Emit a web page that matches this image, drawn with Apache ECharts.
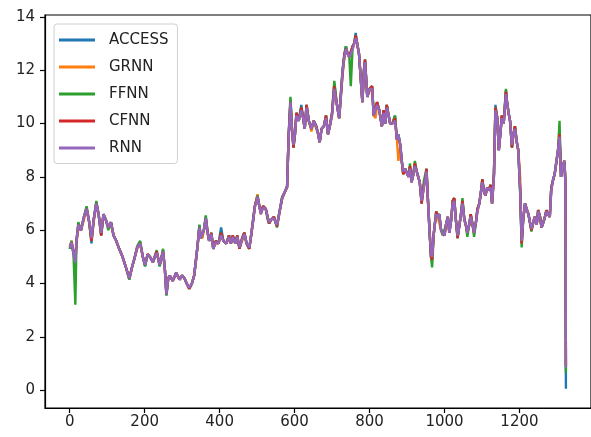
<!DOCTYPE html>
<html>
<head>
<meta charset="utf-8">
<script src="https://cdn.jsdelivr.net/npm/echarts@6/dist/echarts.min.js"></script>
<style>
html,body{margin:0;padding:0;background:#fff;}
#chart{width:591px;height:437px;}
</style>
</head>
<body>
<div id="chart"></div>
<script>
// sample positions (index on x axis)
const xIdx = [
0,5,10,15,18,23,30,38,45,52,
58,64,71,77,84,90,96,103,110,117,
124,132,141,150,159,166,172,180,188,195,
201,208,214,222,232,240,249,254,258,263,
267,275,284,293,300,306,312,319,326,332,
337,341,346,350,354,358,363,368,372,378,
383,390,397,404,410,418,425,430,435,442,
447,453,460,466,472,479,484,488,494,501,
506,510,516,523,528,532,538,545,549,553,
560,567,573,580,584,589,593,597,601,605,
611,618,623,627,632,638,645,651,658,663,
667,672,678,684,689,694,700,706,712,719,
723,728,733,737,742,746,750,755,759,763,
767,772,777,781,785,788,794,800,807,811,
816,820,826,833,838,842,846,851,855,861,
868,873,877,882,886,890,895,899,904,908,
912,917,921,926,930,934,939,945,949,952,
956,960,964,967,971,974,978,982,986,991,
995,1000,1004,1009,1013,1018,1022,1026,1031,1035,
1040,1044,1048,1053,1057,1061,1066,1070,1075,1079,
1084,1088,1093,1097,1101,1105,1109,1114,1118,1123,
1127,1132,1136,1141,1145,1149,1153,1158,1164,1167,
1171,1175,1180,1184,1188,1193,1197,1202,1206,1210,
1215,1219,1224,1228,1232,1237,1241,1246,1250,1255,
1259,1264,1268,1272,1276,1281,1285,1290,1294,1299,
1303,1307,1311,1316,1320,1323,1324];

const seriesNames = ['ACCESS','GRNN','FFNN','CFNN','RNN'];

const accessVals = [
5.3,5.5,5.1,4.7,5.6,6.2,6.0,6.5,6.85,6.3,
5.5,6.4,7.05,6.6,5.8,6.6,6.4,6.1,6.3,5.8,
5.6,5.3,5.0,4.6,4.15,4.6,4.9,5.35,5.55,5.0,
4.65,5.1,5.0,4.8,5.2,4.65,5.25,4.5,3.55,4.2,
4.3,4.1,4.4,4.15,4.3,4.2,4.0,3.8,4.0,4.3,
4.9,5.4,6.2,5.7,5.75,6.0,6.5,5.9,5.6,5.9,
5.3,5.6,5.5,6.1,5.6,5.5,5.8,5.5,5.8,5.5,
5.8,5.3,5.7,5.9,5.5,5.3,5.8,6.25,6.9,7.3,
6.9,6.65,6.9,6.8,6.5,6.25,6.4,6.5,6.3,6.15,
6.7,7.25,7.4,7.65,9.5,10.9,9.8,9.1,9.6,10.4,
10.1,10.7,10.2,9.8,10.7,10.1,9.8,10.1,9.9,9.6,
9.3,9.8,9.9,10.3,9.6,9.9,10.4,11.5,10.8,10.2,
11.0,12.0,12.6,12.9,12.6,12.5,12.7,12.9,13.0,13.4,
13.0,12.6,11.6,10.8,12.0,12.4,11.0,11.3,11.4,10.3,
10.3,10.8,10.5,9.9,10.5,10.0,10.7,10.3,10.0,10.0,
10.3,9.4,9.6,9.2,8.6,8.1,8.3,8.3,8.0,8.4,
7.8,8.1,8.5,8.2,8.0,7.8,7.0,7.7,7.9,8.3,
7.1,6.0,5.0,4.9,5.8,6.2,6.7,6.5,6.6,6.0,
5.9,5.8,6.2,6.5,5.9,6.4,7.1,7.2,6.3,5.7,
6.2,6.6,7.1,6.4,6.2,5.9,6.2,6.6,6.2,5.9,
6.3,6.8,7.0,7.4,7.9,7.5,7.3,7.6,7.5,7.7,
7.0,8.1,10.7,10.2,9.0,9.6,10.3,10.0,11.25,10.8,
10.4,10.1,9.1,9.6,9.9,9.3,9.0,7.4,5.5,6.4,
7.0,6.8,6.6,6.3,6.0,6.3,6.5,6.2,6.75,6.5,
6.1,6.3,6.5,6.75,6.6,6.5,7.6,7.9,8.1,8.6,
9.0,9.6,8.0,8.4,8.6,7.7,0.05];

const grnnVals = [
5.4,5.6,5.2,4.8,5.5,6.1,6.0,6.4,6.8,6.3,
5.6,6.3,7.0,6.6,5.9,6.5,6.4,6.1,6.2,5.8,
5.6,5.3,5.0,4.6,4.2,4.6,4.9,5.3,5.5,5.0,
4.7,5.1,5.0,4.8,5.15,4.7,5.2,4.5,3.6,4.2,
4.3,4.1,4.35,4.15,4.3,4.2,4.0,3.85,4.0,4.3,
4.9,5.4,6.1,5.8,5.7,6.0,6.4,5.9,5.6,5.8,
5.35,5.5,5.5,5.8,5.6,5.5,5.7,5.5,5.7,5.5,
5.7,5.35,5.6,5.8,5.5,5.3,5.8,6.2,6.9,7.35,
6.9,6.6,6.85,6.8,6.5,6.3,6.4,6.45,6.3,6.2,
6.7,7.2,7.4,7.6,9.4,10.8,9.8,9.2,9.6,10.3,
10.1,10.5,10.2,9.8,10.6,10.1,9.7,10.1,9.8,9.6,
9.3,9.8,9.9,10.2,9.6,9.9,10.3,11.3,10.8,10.2,
10.9,11.8,12.5,12.8,12.6,12.5,12.6,12.8,13.0,13.2,
13.0,12.6,11.6,10.8,11.9,12.3,11.0,11.2,11.3,10.3,
10.2,10.7,10.5,9.9,10.4,10.0,10.6,10.3,10.0,10.0,
10.2,9.4,8.6,9.1,8.6,8.1,8.3,8.3,8.0,8.3,
7.8,8.1,8.4,8.2,8.0,7.8,7.1,7.6,7.9,8.2,
7.1,6.1,5.1,5.0,5.8,6.2,6.6,6.5,6.5,6.0,
5.9,5.8,6.2,6.5,5.9,6.4,7.0,7.1,6.3,5.8,
6.2,6.6,7.0,6.4,6.2,5.9,6.2,6.5,6.2,5.9,
6.3,6.7,7.0,7.4,7.8,7.5,7.3,7.5,7.5,7.6,
7.0,8.0,10.6,10.2,9.0,9.6,10.2,10.0,11.1,10.8,
10.4,10.1,9.2,9.6,9.8,9.3,9.0,8.0,5.6,6.4,
7.0,6.8,6.6,6.3,6.0,6.3,6.5,6.2,6.7,6.5,
6.1,6.3,6.5,6.7,6.6,6.5,7.5,7.9,8.1,8.6,
9.0,9.5,8.0,8.4,8.6,7.8,0.9];

const ffnnVals = [
5.3,5.6,5.1,3.2,5.6,6.3,6.0,6.5,6.9,6.3,
5.6,6.4,7.1,6.6,5.8,6.6,6.4,6.0,6.3,5.8,
5.6,5.3,5.0,4.6,4.15,4.6,4.9,5.4,5.6,5.0,
4.65,5.1,5.0,4.8,5.25,4.65,5.3,4.5,3.55,4.2,
4.3,4.1,4.4,4.15,4.3,4.2,4.0,3.8,4.0,4.3,
4.9,5.4,6.2,5.7,5.75,6.0,6.55,5.9,5.6,5.9,
5.3,5.6,5.5,5.9,5.6,5.5,5.8,5.5,5.8,5.5,
5.8,5.3,5.7,5.9,5.5,5.3,5.8,6.25,6.9,7.3,
6.9,6.65,6.9,6.8,6.4,6.25,6.4,6.5,6.3,6.1,
6.7,7.25,7.4,7.65,9.5,11.0,9.8,9.1,9.6,10.4,
10.1,10.6,10.2,9.8,10.7,10.1,9.8,10.1,9.9,9.6,
9.3,9.8,9.9,10.3,9.6,9.9,10.4,11.6,10.8,10.2,
11.0,12.0,12.6,12.9,12.6,12.5,11.4,12.9,13.0,13.3,
13.0,12.6,11.6,10.8,12.0,12.4,11.0,11.3,11.4,10.3,
10.3,10.8,10.5,9.9,10.5,10.0,10.7,10.3,10.0,10.0,
10.3,9.4,9.6,9.2,8.6,8.1,8.3,8.3,8.0,8.5,
7.8,8.1,8.6,8.2,8.0,7.8,7.0,7.85,7.9,8.3,
7.1,6.0,5.0,4.6,5.8,6.2,6.7,6.5,6.6,6.0,
5.8,5.8,6.2,6.5,5.9,6.4,7.1,7.2,6.3,5.7,
6.2,6.6,7.2,6.4,6.2,5.75,6.2,6.6,6.2,5.75,
6.3,6.8,7.0,7.4,7.9,7.5,7.3,7.6,7.5,7.7,
7.0,8.1,10.6,10.2,9.0,9.6,10.3,10.0,11.3,10.8,
10.4,10.1,9.1,9.6,9.9,9.3,9.0,7.4,5.35,6.4,
7.0,6.8,6.6,6.3,5.95,6.3,6.5,6.2,6.75,6.5,
6.1,6.3,6.5,6.75,6.6,6.5,7.6,7.9,8.1,8.6,
9.0,10.1,8.0,8.4,8.6,7.7,0.65];

const cfnnVals = [
5.4,5.5,5.2,4.9,5.6,6.2,6.0,6.5,6.8,6.3,
5.6,6.4,7.0,6.6,5.8,6.6,6.4,6.1,6.3,5.8,
5.6,5.3,5.0,4.6,4.2,4.6,4.9,5.35,5.5,5.0,
4.7,5.1,5.0,4.8,5.2,4.7,5.2,4.5,3.6,4.2,
4.3,4.1,4.4,4.15,4.3,4.2,4.0,3.8,4.0,4.3,
4.9,5.4,6.1,5.7,5.75,6.0,6.45,5.9,5.6,5.9,
5.3,5.6,5.5,5.9,5.6,5.5,5.8,5.5,5.8,5.5,
5.8,5.3,5.7,5.9,5.5,5.3,5.8,6.2,6.9,7.25,
6.9,6.65,6.9,6.8,6.5,6.25,6.4,6.5,6.3,6.15,
6.7,7.2,7.4,7.6,9.5,10.8,9.8,9.1,9.6,10.4,
10.1,10.6,10.2,9.8,10.7,10.1,9.8,10.1,9.9,9.6,
9.3,9.8,9.9,10.3,9.6,9.9,10.4,11.4,10.8,10.2,
11.0,11.9,12.6,12.8,12.6,12.5,12.7,12.9,13.0,13.3,
13.0,12.6,11.6,10.8,12.0,12.4,11.0,11.3,11.4,10.3,
10.3,10.8,10.5,9.9,10.5,10.0,10.7,10.3,10.0,10.0,
10.2,9.4,9.5,9.2,8.6,8.1,8.3,8.3,8.0,8.4,
7.8,8.1,8.5,8.2,8.0,7.8,7.0,7.7,7.9,8.3,
7.1,6.0,5.0,4.9,5.8,6.2,6.7,6.5,6.6,6.0,
5.9,5.8,6.2,6.5,5.9,6.4,7.1,7.2,6.3,5.7,
6.2,6.6,7.1,6.4,6.2,5.9,6.2,6.6,6.2,5.9,
6.3,6.8,7.0,7.4,7.9,7.5,7.3,7.6,7.5,7.7,
7.0,8.1,10.6,10.2,9.0,9.6,10.3,10.0,11.2,10.8,
10.4,10.1,9.1,9.6,9.9,9.3,9.0,7.5,5.5,6.4,
7.0,6.8,6.6,6.3,6.0,6.3,6.5,6.2,6.75,6.5,
6.1,6.3,6.5,6.75,6.6,6.5,7.6,7.9,8.1,8.6,
9.0,9.6,8.0,8.4,8.6,7.7,0.9];

const rnnVals = [
5.35,5.55,5.15,4.8,5.6,6.2,6.0,6.5,6.8,6.3,
5.7,6.4,7.0,6.6,5.9,6.6,6.4,6.1,6.3,5.8,
5.6,5.3,5.0,4.6,4.2,4.6,4.9,5.35,5.5,5.0,
4.7,5.1,5.0,4.8,5.15,4.7,5.2,4.5,3.6,4.2,
4.3,4.1,4.4,4.15,4.3,4.2,4.0,3.85,4.0,4.3,
4.9,5.4,6.1,5.7,5.75,6.0,6.45,5.9,5.6,5.85,
5.3,5.55,5.5,5.8,5.6,5.5,5.75,5.5,5.75,5.5,
5.75,5.35,5.65,5.85,5.5,5.35,5.8,6.2,6.85,7.25,
6.9,6.6,6.85,6.8,6.5,6.3,6.4,6.45,6.3,6.2,
6.7,7.2,7.4,7.6,9.4,10.8,9.8,9.2,9.6,10.3,
10.1,10.5,10.2,9.8,10.6,10.1,9.8,10.1,9.85,9.6,
9.3,9.8,9.9,10.2,9.6,9.9,10.3,11.3,10.8,10.2,
10.9,11.9,12.5,12.8,12.6,12.5,12.6,12.8,13.0,13.2,
13.0,12.6,11.6,10.8,11.9,12.3,11.0,11.3,11.3,10.3,
10.3,10.7,10.5,9.9,10.4,10.0,10.6,10.3,10.0,10.0,
10.1,9.4,9.6,9.2,8.6,8.2,8.3,8.3,8.0,8.3,
7.8,8.1,8.4,8.2,8.0,7.8,7.1,7.6,7.9,8.2,
7.1,6.0,5.1,5.0,5.8,6.2,6.6,6.5,6.6,6.0,
5.9,5.8,6.2,6.5,5.9,6.4,7.0,7.1,6.3,5.8,
6.2,6.6,7.0,6.4,6.2,5.9,6.2,6.5,6.2,5.9,
6.3,6.7,7.0,7.4,7.8,7.5,7.3,7.6,7.5,7.6,
7.0,8.0,10.5,10.2,9.0,9.6,10.2,10.0,11.1,10.8,
10.4,10.1,9.2,9.6,9.8,9.3,9.0,7.5,5.6,6.4,
7.0,6.8,6.6,6.3,6.05,6.3,6.5,6.2,6.7,6.5,
6.1,6.3,6.5,6.7,6.6,6.5,7.5,7.9,8.1,8.6,
9.0,9.5,8.0,8.4,8.6,7.7,0.85];

const xTicks = [0,200,400,600,800,1000,1200];
const yTicks = [0,2,4,6,8,10,12,14];

const colors = ['#1f77b4','#ff7f0e','#2ca02c','#d62728','#9467bd'];
const allVals = [accessVals, grnnVals, ffnnVals, cfnnVals, rnnVals];

const chart = echarts.init(document.getElementById('chart'), null, {renderer:'canvas'});
const font = 'DejaVu Sans';

chart.setOption({
  animation: false,
  backgroundColor: '#fff',
  color: colors,
  grid: {left: 45, right: -8, top: 15, bottom: 29, show: true, borderColor: '#000', borderWidth: 1.2, backgroundColor: 'transparent'},
  legend: {
    orient: 'vertical',
    left: 54, top: 24,
    data: seriesNames,
    icon: 'rect',
    itemWidth: 36, itemHeight: 3,
    itemGap: 10,
    padding: [7.5, 9, 7, 5],
    backgroundColor: 'rgba(255,255,255,0.8)',
    borderColor: '#d0d0d0', borderWidth: 1, borderRadius: 3,
    textStyle: {fontFamily: font, fontSize: 15, color: '#222', lineHeight: 17, padding: [0,0,0,9]}
  },
  xAxis: {
    type: 'value', min: -66, max: 1391,
    axisLine: {show: true, onZero: false, lineStyle: {color: '#000', width: 1.2}},
    axisTick: {show: true, customValues: xTicks, length: 5, lineStyle: {color: '#000', width: 1.2}},
    axisLabel: {customValues: xTicks, fontFamily: font, fontSize: 15, color: '#222', margin: 7,
      formatter: v => String(v)},
    splitLine: {show: false}
  },
  yAxis: {
    type: 'value', min: -0.67, max: 14.07,
    axisLine: {show: true, onZero: false, lineStyle: {color: '#000', width: 1.2}},
    axisTick: {show: true, customValues: yTicks, length: 5, lineStyle: {color: '#000', width: 1.2}},
    axisLabel: {customValues: yTicks, fontFamily: font, fontSize: 15, color: '#222', margin: 10,
      formatter: v => String(v)},
    splitLine: {show: false}
  },
  series: seriesNames.map((name, k) => ({
    name: name,
    type: 'line',
    showSymbol: false,
    symbol: 'none',
    lineStyle: {width: 2.4, color: colors[k]},
    itemStyle: {color: colors[k]},
    z: 2 + k,
    data: xIdx.map((x, i) => [x, allVals[k][i]])
  }))
});
</script>
</body>
</html>
